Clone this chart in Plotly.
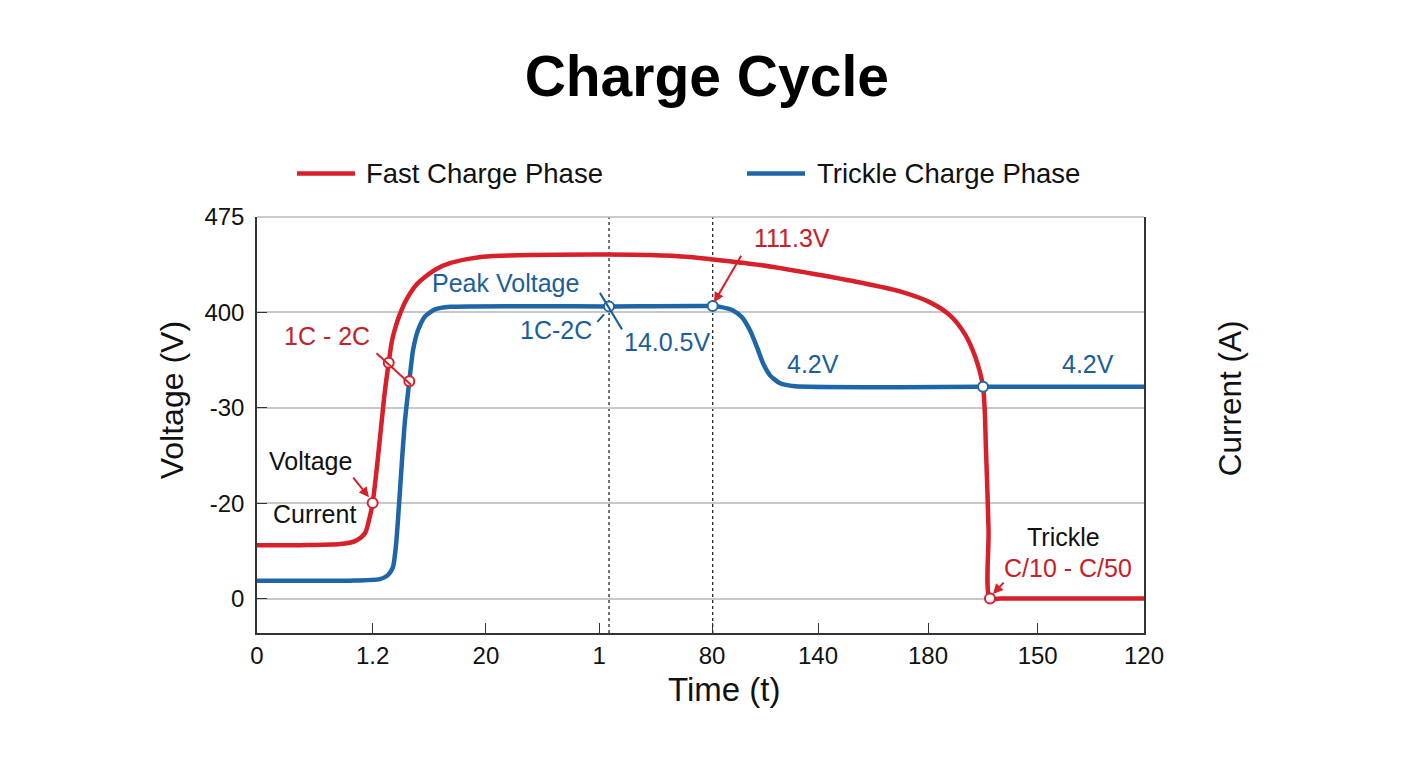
import plotly.graph_objects as go

# ---------------- data (axis units: ticks evenly spaced) ----------------
x_tick_vals = [0, 1.043, 2.065, 3.085, 4.104, 5.06, 6.052, 7.041, 8]
x_tick_text = ["0", "1.2", "20", "1", "80", "140", "180", "150", "120"]
y_tick_vals = [0, 1, 2, 3, 4]
y_tick_text = ["0", "-20", "-30", "400", "475"]

fast_x = [0, 0.388, 0.749, 0.884, 0.974, 1.010, 1.043, 1.073, 1.100, 1.125, 1.154,
          1.188, 1.218, 1.254, 1.290, 1.335, 1.380, 1.443, 1.515, 1.623, 1.740,
          1.894, 2.038, 2.462, 3.157, 3.545, 3.905, 4.113, 4.537, 5.024, 5.439,
          5.799, 6.070, 6.250, 6.386, 6.476, 6.548,
          6.575, 6.598, 6.611, 6.701, 8]
fast_y = [0.560, 0.560, 0.571, 0.602, 0.686, 0.822, 1.003, 1.288, 1.581, 1.864, 2.178,
          2.473, 2.707, 2.864, 2.984, 3.105, 3.199, 3.298, 3.372, 3.458, 3.516,
          3.558, 3.584, 3.602, 3.607, 3.602, 3.581, 3.555, 3.497, 3.403, 3.314,
          3.220, 3.105, 2.969, 2.770, 2.539, 2.220,
          1.555, 0.717, 0.0, 0.0, 0.0]

trickle_x = [0, 0.839, 1.109, 1.181, 1.2266, 1.2537, 1.2807, 1.3078, 1.3348, 1.3736,
             1.4070, 1.4521, 1.5152, 1.6054, 1.741, 3.175, 4.110, 4.176, 4.293, 4.374,
             4.446, 4.510, 4.564, 4.627, 4.717, 4.852, 6.548, 8]
trickle_y = [0.188, 0.188, 0.204, 0.246, 0.330, 0.560, 0.979, 1.450, 1.869, 2.277,
             2.602, 2.812, 2.958, 3.031, 3.058, 3.063, 3.066, 3.058, 3.021, 2.948,
             2.812, 2.634, 2.466, 2.340, 2.257, 2.225, 2.220, 2.220]

red_pts_x = [1.043, 1.188, 1.374, 6.611]
red_pts_y = [1.003, 2.473, 2.277, 0.0]
blue_pts_x = [3.175, 4.110, 6.548]
blue_pts_y = [3.063, 3.066, 2.220]

phase_marks = [3.175, 4.110]

RED = "#d7202a"
RED_TXT = "#c62028"
BLUE = "#1e66a8"
BLUE_TXT = "#1b5e9b"
FONT = "Liberation Sans, Arial, sans-serif"

fig = go.Figure()
fig.add_trace(go.Scatter(x=fast_x, y=fast_y, mode="lines", name="Fast Charge Phase",
                         line=dict(color=RED, width=4.5, shape="spline", smoothing=0.8),
                         showlegend=False))
fig.add_trace(go.Scatter(x=trickle_x, y=trickle_y, mode="lines", name="Trickle Charge Phase",
                         line=dict(color=BLUE, width=4.5, shape="spline", smoothing=0.6),
                         showlegend=False))
fig.add_trace(go.Scatter(x=red_pts_x, y=red_pts_y, mode="markers", showlegend=False,
                         marker=dict(size=10, color="white", line=dict(color=RED, width=2))))
fig.add_trace(go.Scatter(x=blue_pts_x, y=blue_pts_y, mode="markers", showlegend=False,
                         marker=dict(size=10, color="white", line=dict(color=BLUE, width=2))))

shapes = []
for xm in phase_marks:
    shapes.append(dict(type="line", xref="x", yref="paper", x0=xm, x1=xm, y0=0, y1=1,
                       line=dict(color="#222", width=1.3, dash="dot"), layer="below"))
# light top border
shapes.append(dict(type="line", xref="paper", yref="paper", x0=0, x1=1, y0=1, y1=1,
                   line=dict(color="#b8b8b8", width=1.5), layer="below"))

# custom legend (paper coords)
legend_items = [("Fast Charge Phase", RED, 0.0451, 0.1105, 0.1206),
                ("Trickle Charge Phase", BLUE, 0.5524, 0.6178, 0.6291)]
annotations = []
for name, col, x0, x1, xt in legend_items:
    shapes.append(dict(type="line", xref="paper", yref="paper", x0=x0, x1=x1, y0=1.1044, y1=1.1044,
                       line=dict(color=col, width=4.5)))
    annotations.append(dict(xref="paper", yref="paper", x=xt, y=1.1044, text=name, showarrow=False,
                            xanchor="left", yanchor="middle", font=dict(size=27.5, color="#111", family=FONT)))

labels = [
    ("Peak Voltage", 2.237, 3.304, BLUE_TXT),
    ("1C-2C", 2.697, 2.812, BLUE_TXT),
    ("14.0.5V", 3.698, 2.686, BLUE_TXT),
    ("111.3V", 4.825, 3.775, RED_TXT),
    ("4.2V", 5.015, 2.456, BLUE_TXT),
    ("4.2V", 7.495, 2.456, BLUE_TXT),
    ("1C - 2C", 0.631, 2.749, RED_TXT),
    ("Voltage", 0.478, 1.440, "#111"),
    ("Current", 0.523, 0.885, "#111"),
    ("Trickle", 7.278, 0.644, "#111"),
    ("C/10 - C/50", 7.315, 0.319, RED_TXT),
]
for t, x, y, c in labels:
    annotations.append(dict(x=x, y=y, xref="x", yref="y", text=t, showarrow=False,
                            xanchor="center", yanchor="middle", font=dict(size=25, color=c, family=FONT)))

# pointers: (head x, head y, tail dx px, tail dy px, color, arrowhead)
pointers = [
    (4.122, 3.105, 28, -48, RED, 2),
    (1.010, 1.063, -17, -21, RED, 2),
    (6.638, 0.047, 12, -13, RED, 2),
    (1.389, 2.241, -36, -33, RED, 0),
    (3.292, 2.822, -23, -38, BLUE_TXT, 0),
    (3.130, 2.979, -8, 9, BLUE_TXT, 0),
]
for hx, hy, dx, dy, c, ah in pointers:
    annotations.append(dict(x=hx, y=hy, xref="x", yref="y", ax=dx, ay=dy, text="",
                            showarrow=True, arrowhead=ah, arrowsize=1, arrowwidth=2,
                            arrowcolor=c, standoff=0, startstandoff=0))

# axis titles
annotations.append(dict(xref="paper", yref="paper", x=(172 - 257) / 887, y=(633 - 400) / 416.5,
                        text="Voltage (V)", textangle=-90, showarrow=False,
                        xanchor="center", yanchor="middle", font=dict(size=32, color="#111", family=FONT)))
annotations.append(dict(xref="paper", yref="paper", x=(1230 - 257) / 887, y=(633 - 398) / 416.5,
                        text="Current (A)", textangle=-90, showarrow=False,
                        xanchor="center", yanchor="middle", font=dict(size=31.5, color="#111", family=FONT)))
annotations.append(dict(xref="paper", yref="paper", x=(724 - 257) / 887, y=(633 - 690) / 416.5,
                        text="Time (t)", showarrow=False,
                        xanchor="center", yanchor="middle", font=dict(size=33, color="#111", family=FONT)))

fig.update_layout(
    width=1408, height=768,
    margin=dict(l=257, r=264, t=216.5, b=135),
    paper_bgcolor="white", plot_bgcolor="white",
    font=dict(family=FONT, color="#111"),
    title=dict(text="<b>Charge Cycle</b>", x=0.502, xanchor="center", y=1 - 76 / 768,
               yanchor="middle", font=dict(size=57, color="#000", family=FONT)),
    shapes=shapes, annotations=annotations, showlegend=False,
)
fig.update_xaxes(range=[0, 8], tickvals=x_tick_vals, ticktext=x_tick_text,
                 showgrid=False, zeroline=False, showline=True, linecolor="#333", linewidth=1.5,
                 ticks="inside", ticklen=10, tickwidth=1.3, tickcolor="#333",
                 tickfont=dict(size=24, color="#111"), ticklabelstandoff=0)
fig.update_yaxes(range=[-0.361, 4.0], tickvals=y_tick_vals, ticktext=y_tick_text,
                 showgrid=True, gridcolor="#c8c8c8", gridwidth=1.5, zeroline=False,
                 showline=True, linecolor="#333", linewidth=1.5, mirror=True,
                 ticks="inside", ticklen=10, tickwidth=1.3, tickcolor="#333",
                 tickfont=dict(size=24, color="#111"), ticklabelstandoff=6)

fig.write_html("out.html")
